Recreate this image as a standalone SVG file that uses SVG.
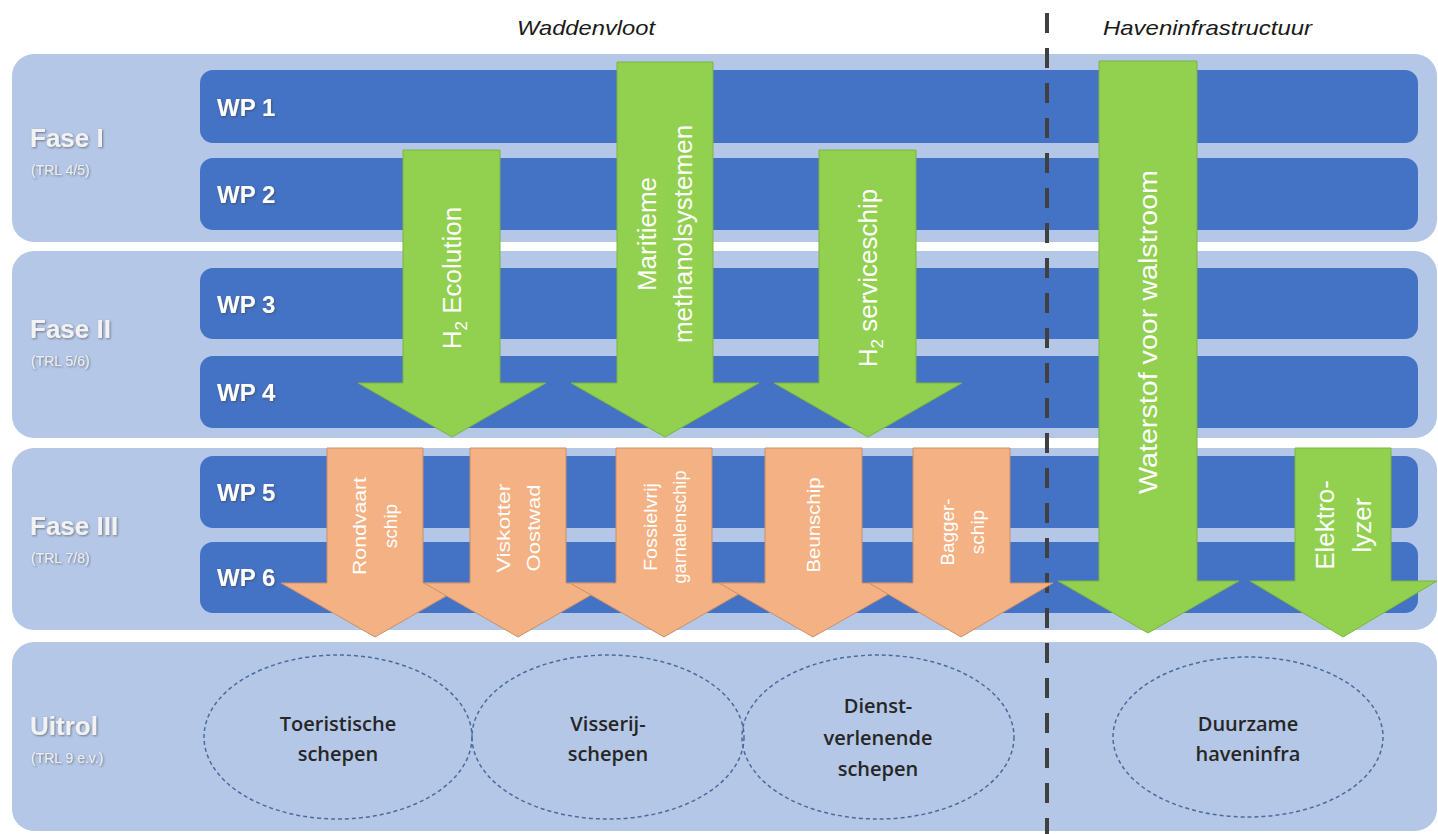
<svg xmlns="http://www.w3.org/2000/svg" width="1438" height="834" viewBox="0 0 1438 834">
<style>
.panel{fill:#B4C7E7;}
.bar{fill:#4472C4;}
.green{fill:#92D050;stroke:#7DB43F;stroke-width:1;}
.orange{fill:#F4B183;stroke:#C8906B;stroke-width:1;}
.fase{font-family:"Liberation Sans",Arial,sans-serif;font-weight:bold;font-size:26px;fill:#F2F2F2;}
.trl{font-family:"Liberation Sans",Arial,sans-serif;font-size:14px;fill:#EDEDED;}
.wp{font-family:"Liberation Sans",Arial,sans-serif;font-weight:bold;font-size:24px;fill:#FFFFFF;}
.gt{font-family:"Liberation Sans",Arial,sans-serif;font-size:26px;fill:#FFFFFF;text-anchor:middle;}
.ot{font-family:"Liberation Sans",Arial,sans-serif;font-size:19px;fill:#FFFFFF;text-anchor:middle;}
.hdr{font-family:"Liberation Sans",Arial,sans-serif;font-style:italic;font-size:21px;fill:#1A1A1A;}
.el{fill:none;stroke:#4F6A9A;stroke-width:1.5;stroke-dasharray:4 3;}
.et{font-family:"Open Sans","Liberation Sans",Arial,sans-serif;font-weight:600;font-size:20px;fill:#262626;text-anchor:middle;}
.sh{filter:url(#shadow);}
</style>
<defs>
<filter id="shadow" x="-10%" y="-20%" width="130%" height="150%">
<feDropShadow dx="1" dy="1" stdDeviation="0.8" flood-color="#404040" flood-opacity="0.6"/>
</filter>
</defs>
<rect x="0" y="0" width="1438" height="834" fill="#FFFFFF"/>

<g id="headers">
<text class="hdr" x="517" y="35" textLength="138" lengthAdjust="spacingAndGlyphs">Waddenvloot</text>
<text class="hdr" x="1103" y="35" textLength="209" lengthAdjust="spacingAndGlyphs">Haveninfrastructuur</text>
</g>

<g id="fase1">
<rect class="panel" x="12" y="54" width="1425" height="188" rx="22"/>
<text class="fase sh" x="30" y="147">Fase I</text>
<text class="trl sh" x="31" y="175">(TRL 4/5)</text>
</g>
<g id="fase2">
<rect class="panel" x="12" y="251" width="1425" height="187" rx="22"/>
<text class="fase sh" x="30" y="338">Fase II</text>
<text class="trl sh" x="31" y="366">(TRL 5/6)</text>
</g>
<g id="fase3">
<rect class="panel" x="12" y="448" width="1425" height="182" rx="22"/>
<text class="fase sh" x="30" y="535">Fase III</text>
<text class="trl sh" x="31" y="563">(TRL 7/8)</text>
</g>
<g id="uitrol">
<rect class="panel" x="12" y="642" width="1425" height="189" rx="22"/>
<text class="fase sh" x="30" y="735">Uitrol</text>
<text class="trl sh" x="31" y="763">(TRL 9 e.v.)</text>
</g>

<g id="wp1"><rect class="bar" x="200" y="70" width="1218" height="73" rx="13"/><text class="wp sh" x="217" y="116">WP 1</text></g>
<g id="wp2"><rect class="bar" x="200" y="158" width="1218" height="72" rx="13"/><text class="wp sh" x="217" y="203">WP 2</text></g>
<g id="wp3"><rect class="bar" x="200" y="268" width="1218" height="71" rx="13"/><text class="wp sh" x="217" y="313">WP 3</text></g>
<g id="wp4"><rect class="bar" x="200" y="356" width="1218" height="72" rx="13"/><text class="wp sh" x="217" y="401">WP 4</text></g>
<g id="wp5"><rect class="bar" x="200" y="456" width="1218" height="72" rx="13"/><text class="wp sh" x="217" y="501">WP 5</text></g>
<g id="wp6"><rect class="bar" x="200" y="542" width="1218" height="71" rx="13"/><text class="wp sh" x="217" y="586">WP 6</text></g>

<g id="ellipses">
<g id="toeristisch"><ellipse class="el" cx="338" cy="737" rx="134" ry="82"/>
<text class="et" x="338" y="731">Toeristische</text><text class="et" x="338" y="761">schepen</text></g>
<g id="visserij"><ellipse class="el" cx="608" cy="737" rx="136" ry="82"/>
<text class="et" x="608" y="731">Visserij-</text><text class="et" x="608" y="761">schepen</text></g>
<g id="dienst"><ellipse class="el" cx="878" cy="737" rx="136" ry="82"/>
<text class="et" x="878" y="713">Dienst-</text><text class="et" x="878" y="745">verlenende</text><text class="et" x="878" y="776">schepen</text></g>
<g id="duurzaam"><ellipse class="el" cx="1248" cy="737" rx="135" ry="80"/>
<text class="et" x="1248" y="731">Duurzame</text><text class="et" x="1248" y="761">haveninfra</text></g>
</g>

<g id="divider">
<line x1="1047" y1="13" x2="1047" y2="834" stroke="#404040" stroke-width="4" stroke-dasharray="20 15"/>
</g>

<g id="connectors">
<g id="arrow-h2eco">
<polygon class="green" points="403,150 500,150 500,383 546,383 452,437 358,383 403,383"/>
<text class="gt" transform="translate(452,278) rotate(-90)" y="9">H<tspan font-size="17" dy="6">2</tspan><tspan dy="-6"> Ecolution</tspan></text>
</g>
<g id="arrow-methanol">
<polygon class="green" points="617,62 713,62 713,383 759,383 665,437 571,383 617,383"/>
<text class="gt" transform="translate(665,234) rotate(-90)"><tspan x="0" y="-9">Maritieme</tspan><tspan x="0" y="27">methanolsystemen</tspan></text>
</g>
<g id="arrow-h2service">
<polygon class="green" points="819,150 916,150 916,383 962,383 868,437 774,383 819,383"/>
<text class="gt" transform="translate(868,278) rotate(-90)" y="9">H<tspan font-size="17" dy="6">2</tspan><tspan dy="-6"> serviceschip</tspan></text>
</g>
<g id="arrow-walstroom">
<polygon class="green" points="1099,61 1197,61 1197,581 1239,581 1148,633 1058,581 1099,581"/>
<text class="gt" transform="translate(1148,332) rotate(-90)" y="9" font-size="27" textLength="324" lengthAdjust="spacingAndGlyphs">Waterstof voor walstroom</text>
</g>
<g id="arrow-elektrolyzer">
<polygon class="green" points="1295,448 1391,448 1391,581 1437,581 1343,637 1250,581 1295,581"/>
<text class="gt" transform="translate(1343,525) rotate(-90)"><tspan x="0" y="-9">Elektro-</tspan><tspan x="0" y="28">lyzer</tspan></text>
</g>

<g id="arrow-rondvaart">
<polygon class="orange" points="327,448 423,448 423,583 469,583 375,637 281,583 327,583"/>
<text class="ot" transform="translate(375,526) rotate(-90)"><tspan x="0" y="-9" textLength="98" lengthAdjust="spacingAndGlyphs">Rondvaart</tspan><tspan x="0" y="22">schip</tspan></text>
</g>
<g id="arrow-viskotter">
<polygon class="orange" points="470,448 566,448 566,583 612,583 518,637 424,583 470,583"/>
<text class="ot" transform="translate(518,528) rotate(-90)"><tspan x="0" y="-8" textLength="89" lengthAdjust="spacingAndGlyphs">Viskotter</tspan><tspan x="0" y="22" textLength="87" lengthAdjust="spacingAndGlyphs">Oostwad</tspan></text>
</g>
<g id="arrow-garnalen">
<polygon class="orange" points="616,448 712,448 712,583 758,583 664,637 570,583 616,583"/>
<text class="ot" transform="translate(665,527) rotate(-90)" font-size="17"><tspan x="0" y="-8" textLength="88" lengthAdjust="spacingAndGlyphs">Fossielvrij</tspan><tspan x="0" y="21" textLength="113" lengthAdjust="spacingAndGlyphs">garnalenschip</tspan></text>
</g>
<g id="arrow-beunschip">
<polygon class="orange" points="765,448 862,448 862,583 908,583 813,637 719,583 765,583"/>
<text class="ot" transform="translate(813,525) rotate(-90)" y="7" textLength="95" lengthAdjust="spacingAndGlyphs">Beunschip</text>
</g>
<g id="arrow-bagger">
<polygon class="orange" points="913,448 1010,448 1010,583 1053,583 961,637 869,583 913,583"/>
<text class="ot" transform="translate(962,532) rotate(-90)"><tspan x="0" y="-8" textLength="67" lengthAdjust="spacingAndGlyphs">Bagger-</tspan><tspan x="0" y="22">schip</tspan></text>
</g>
</g>
</svg>
